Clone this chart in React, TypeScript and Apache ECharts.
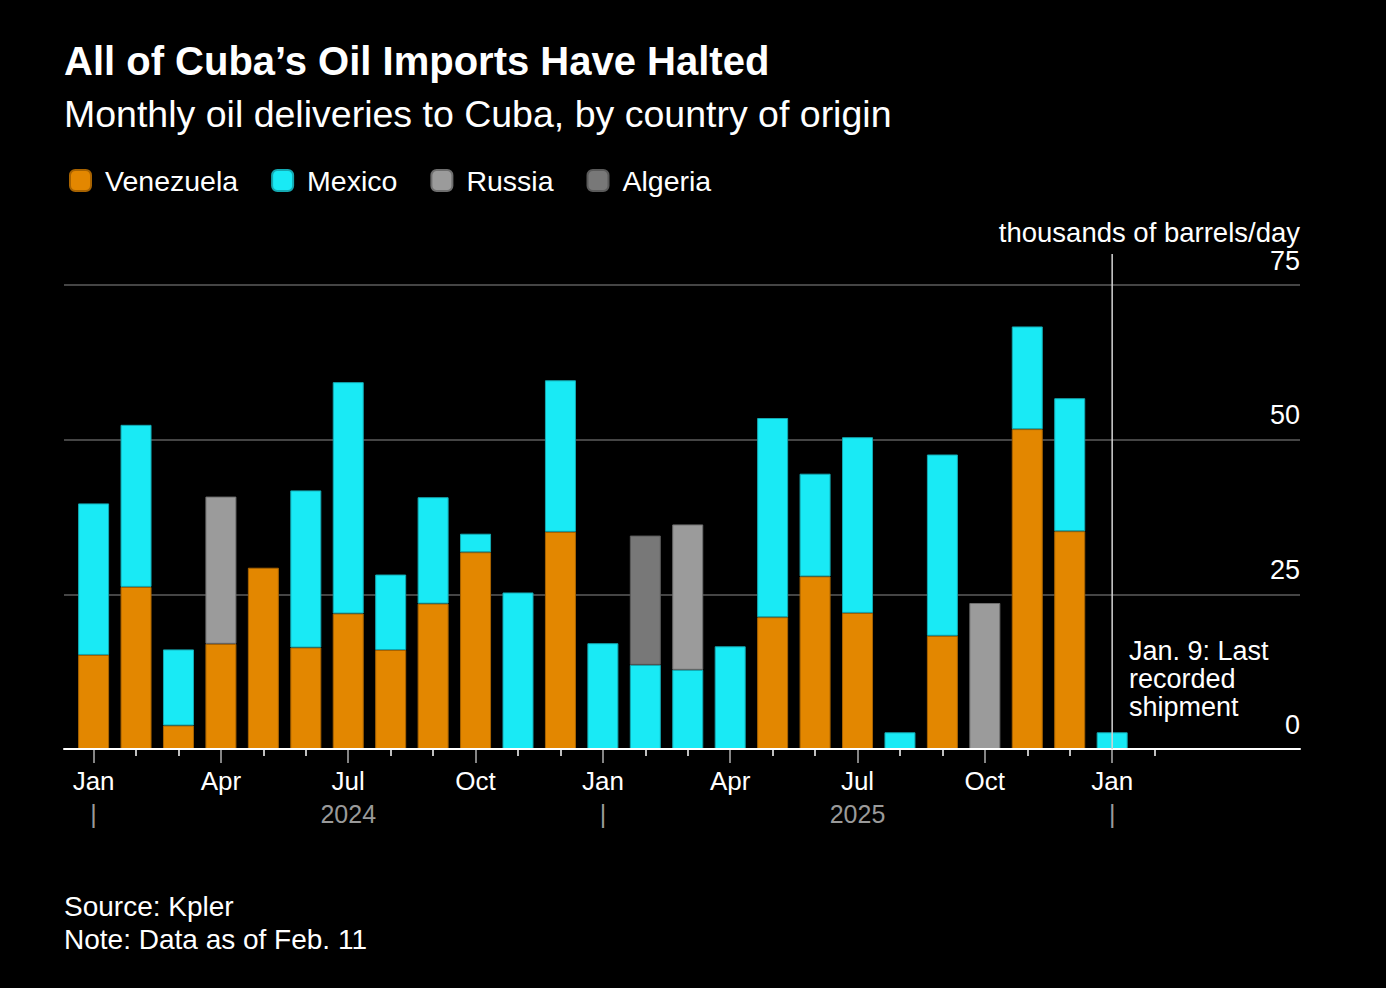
import React, { useEffect, useRef } from 'react';
import * as echarts from 'echarts';

// Monthly deliveries, thousands of barrels/day (Jan 2024 – Jan 2026)
const months = [
  '2024-01', '2024-02', '2024-03', '2024-04', '2024-05', '2024-06',
  '2024-07', '2024-08', '2024-09', '2024-10', '2024-11', '2024-12',
  '2025-01', '2025-02', '2025-03', '2025-04', '2025-05', '2025-06',
  '2025-07', '2025-08', '2025-09', '2025-10', '2025-11', '2025-12',
  '2026-01',
];
// Months still shown on the axis but with no deliveries recorded yet
const emptyMonths = ['2026-02', '2026-03', '2026-04', '2026-05'];

const venezuela = [15.2, 26.2, 3.8, 17.0, 29.3, 16.4, 21.9, 16.0, 23.5, 31.8, 0, 35.1, 0, 0, 0, 0, 21.3, 27.9, 22.0, 0, 18.3, 0, 51.7, 35.2, 0];
const mexico = [24.5, 26.2, 12.3, 0, 0, 25.4, 37.4, 12.2, 17.2, 3.0, 25.3, 24.5, 17.1, 13.6, 12.8, 16.6, 32.2, 16.6, 28.4, 2.7, 29.3, 0, 16.6, 21.5, 2.7];
const russia = [0, 0, 0, 23.8, 0, 0, 0, 0, 0, 0, 0, 0, 0, 0, 23.5, 0, 0, 0, 0, 0, 0, 23.6, 0, 0, 0];
const algeria = [0, 0, 0, 0, 0, 0, 0, 0, 0, 0, 0, 0, 0, 20.9, 0, 0, 0, 0, 0, 0, 0, 0, 0, 0, 0];

const seriesNames = ['Venezuela', 'Mexico', 'Russia', 'Algeria'];
const quarterLabels = ['Jan', 'Apr', 'Jul', 'Oct'];
const yearLabels = ['2024', '2025'];
const lastShipmentMonth = '2026-01';
const lastShipmentNote = 'Jan. 9: Last\nrecorded\nshipment';

const FONT = '"Liberation Sans", Arial, Helvetica, sans-serif';

const COLORS = {
  Venezuela: { fill: '#E38700', border: '#A86300' },
  Mexico: { fill: '#19EAF5', border: '#14A9B2' },
  Russia: { fill: '#9B9B9B', border: '#6E6E6E' },
  Algeria: { fill: '#787878', border: '#5A5A5A' },
};

const toBars = (values: number[]) => values.map((v) => (v > 0 ? v : '-'));

export default function App() {
  const ref = useRef<HTMLDivElement>(null);

  useEffect(() => {
    document.body.style.margin = '0';
    document.body.style.background = '#000';
    if (!ref.current) return;
    const chart = echarts.init(ref.current, null, { renderer: 'svg' });

    const axisMonths = [...months, ...emptyMonths];

    // Plot frame: axis line and gridlines run from x=64 to x=1300
    const frameLeft = 64;
    const frameRight = 86;
    const gridTop = 285;
    const gridBottom = 239;
    // One month per band; first band centred at x≈93.6
    const band = 42.44;
    const firstCentre = 93.6;
    const barsLeft = firstCentre - band / 2;
    const barsRight = 1386 - (barsLeft + band * axisMonths.length);

    // Month-index scale for the visible axis (same pixel mapping as the bands)
    const xMin = (frameLeft - firstCentre) / band;
    const xMax = (1386 - frameRight - firstCentre) / band;

    const tickCount = months.length + 1;
    const allTicks = Array.from({ length: tickCount }, (_, i) => i);
    const quarterTicks = allTicks.filter((i) => i % 3 === 0 && i < months.length);
    const minorTicks = allTicks.filter((i) => i % 3 !== 0);
    const yearMarks = allTicks.filter((i) => i % 6 === 0 && i < months.length);
    const lastIdx = months.indexOf(lastShipmentMonth);

    const dataBySeries: Record<string, number[]> = {
      Venezuela: venezuela,
      Mexico: mexico,
      Russia: russia,
      Algeria: algeria,
    };

    const barSeries = seriesNames.map((name) => ({
      name,
      type: 'bar',
      stack: 'total',
      xAxisIndex: 2,
      yAxisIndex: 1,
      barWidth: 31,
      data: toBars(dataBySeries[name]),
      itemStyle: {
        color: COLORS[name as keyof typeof COLORS].fill,
        borderColor: COLORS[name as keyof typeof COLORS].border,
        borderWidth: 1,
      },
      emphasis: { disabled: true },
    }));

    const option = {
      animation: false,
      backgroundColor: '#000',
      textStyle: { fontFamily: FONT },
      legend: {
        left: 64,
        top: 161,
        itemWidth: 21,
        itemHeight: 21,
        itemGap: 33,
        icon: 'roundRect',
        selectedMode: false,
        data: seriesNames,
        textStyle: { color: '#fff', fontSize: 28.5, fontFamily: FONT, padding: [0, 0, 0, 9] },
      },
      grid: [
        { left: frameLeft, right: frameRight, top: gridTop, bottom: gridBottom },
        { left: barsLeft, right: barsRight, top: gridTop, bottom: gridBottom },
      ],
      xAxis: [
        {
          type: 'value',
          gridIndex: 0,
          min: xMin,
          max: xMax,
          axisLine: { show: true, onZero: false, lineStyle: { color: '#fff', width: 2 } },
          axisTick: { show: true, customValues: minorTicks, length: 7, lineStyle: { color: '#fff', width: 1.5 } },
          axisLabel: {
            show: true,
            customValues: quarterTicks,
            formatter: (v: number) => quarterLabels[(Math.round(v) % 12) / 3],
            color: '#fff',
            fontSize: 26,
            fontFamily: FONT,
            margin: 19,
          },
          splitLine: { show: false },
          z: 3,
        },
        {
          type: 'value',
          gridIndex: 0,
          min: xMin,
          max: xMax,
          position: 'bottom',
          axisLine: { show: false, onZero: false },
          axisTick: { show: true, customValues: quarterTicks, length: 14, lineStyle: { color: '#b0b0b0', width: 1.5 } },
          axisLabel: {
            show: true,
            customValues: yearMarks,
            formatter: (v: number) => {
              const r = Math.round(v);
              return r % 12 === 0 ? '|' : yearLabels[(r - 6) / 12];
            },
            color: '#9a9a9a',
            fontSize: 25,
            fontFamily: FONT,
            margin: 52,
          },
          splitLine: { show: false },
        },
        {
          type: 'category',
          gridIndex: 1,
          data: axisMonths,
          show: false,
        },
      ],
      yAxis: [
        {
          type: 'value',
          gridIndex: 0,
          min: 0,
          max: 75,
          interval: 25,
          position: 'right',
          axisLine: { show: false },
          axisTick: { show: false },
          axisLabel: {
            inside: true,
            color: '#fff',
            fontSize: 27,
            fontFamily: FONT,
            margin: 0,
            verticalAlign: 'bottom',
            padding: [0, 0, 11, 0],
          },
          splitLine: { show: true, lineStyle: { color: '#5c5c5c', width: 1.5 } },
        },
        {
          type: 'value',
          gridIndex: 1,
          min: 0,
          max: 75,
          show: false,
          splitLine: { show: false },
        },
      ],
      series: [
        ...barSeries,
        {
          type: 'line',
          xAxisIndex: 0,
          yAxisIndex: 0,
          data: [[lastIdx, 0], [lastIdx, 80]],
          clip: false,
          symbol: 'none',
          silent: true,
          z: 5,
          lineStyle: { color: '#d4d4d4', width: 1.5 },
        },
      ],
      graphic: [
        {
          type: 'text',
          x: 64,
          y: 61,
          style: {
            text: 'All of Cuba’s Oil Imports Have Halted',
            fill: '#fff',
            fontSize: 40,
            fontWeight: 'bold',
            fontFamily: FONT,
            verticalAlign: 'middle',
          },
        },
        {
          type: 'text',
          x: 64,
          y: 114,
          style: {
            text: 'Monthly oil deliveries to Cuba, by country of origin',
            fill: '#fff',
            fontSize: 37.5,
            fontFamily: FONT,
            verticalAlign: 'middle',
          },
        },
        {
          type: 'text',
          x: 1300,
          y: 232,
          style: {
            text: 'thousands of barrels/day',
            fill: '#fff',
            fontSize: 27.5,
            fontFamily: FONT,
            align: 'right',
            verticalAlign: 'middle',
          },
        },
        {
          type: 'text',
          x: 1129,
          y: 637,
          style: {
            text: lastShipmentNote,
            fill: '#fff',
            fontSize: 27,
            lineHeight: 28,
            fontFamily: FONT,
            verticalAlign: 'top',
          },
        },
        {
          type: 'text',
          x: 64,
          y: 906,
          style: { text: 'Source: Kpler', fill: '#fff', fontSize: 28, fontFamily: FONT, verticalAlign: 'middle' },
        },
        {
          type: 'text',
          x: 64,
          y: 939,
          style: { text: 'Note: Data as of Feb. 11', fill: '#fff', fontSize: 28, fontFamily: FONT, verticalAlign: 'middle' },
        },
      ],
    };

    chart.setOption(option as any);
    return () => chart.dispose();
  }, []);

  return <div ref={ref} style={{ width: 1386, height: 988, background: '#000' }} />;
}
